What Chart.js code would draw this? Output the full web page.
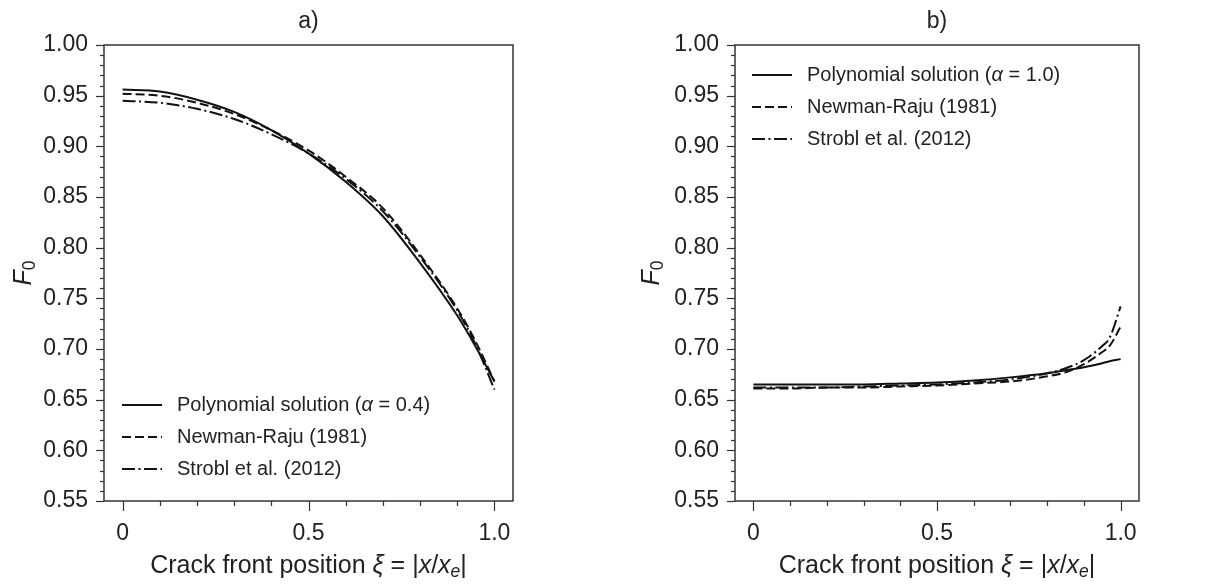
<!DOCTYPE html>
<html>
<head>
<meta charset="utf-8">
<script src="https://cdn.jsdelivr.net/npm/chart.js@4/dist/chart.umd.min.js"></script>
<style>
  body { margin: 0; background: #fff; }
  #wrap { position: relative; width: 1226px; height: 587px; overflow: hidden; }
  canvas { position: absolute; top: 0; }
</style>
</head>
<body>
<div id="wrap">
  <canvas id="chartA" width="540" height="587" style="left:0px"></canvas>
  <canvas id="chartB" width="560" height="587" style="left:620px"></canvas>
</div>
<script>
// ================= DATA =================
const xiA = [0, 0.1, 0.2, 0.3, 0.4, 0.5, 0.6, 0.7, 0.8, 0.9, 0.95, 1.0];
const polyA = [0.956, 0.954, 0.946, 0.934, 0.916, 0.893, 0.865, 0.831, 0.785, 0.733, 0.702, 0.668];
const newmanA = [0.952, 0.950, 0.943, 0.932, 0.916, 0.896, 0.870, 0.839, 0.793, 0.740, 0.707, 0.668];
const stroblA = [0.945, 0.943, 0.937, 0.927, 0.912, 0.893, 0.868, 0.836, 0.791, 0.738, 0.704, 0.660];

const xiB = [0, 0.1, 0.2, 0.3, 0.4, 0.5, 0.6, 0.7, 0.8, 0.85, 0.9, 0.95, 0.97, 1.0];
const polyB = [0.665, 0.665, 0.665, 0.665, 0.666, 0.667, 0.669, 0.672, 0.676, 0.679, 0.682, 0.686, 0.688, 0.690];
const newmanB = [0.661, 0.661, 0.662, 0.662, 0.663, 0.664, 0.666, 0.668, 0.673, 0.677, 0.685, 0.697, 0.703, 0.722];
const stroblB = [0.662, 0.662, 0.662, 0.663, 0.664, 0.665, 0.667, 0.670, 0.676, 0.681, 0.689, 0.703, 0.711, 0.742];

const labelsA = ["Polynomial solution (α = 0.4)", "Newman-Raju (1981)", "Strobl et al. (2012)"];
const labelsB = ["Polynomial solution (α = 1.0)", "Newman-Raju (1981)", "Strobl et al. (2012)"];

const yTicks = [0.55, 0.60, 0.65, 0.70, 0.75, 0.80, 0.85, 0.90, 0.95, 1.00];
const xTicks = [0, 0.5, 1.0];

// ================= HELPERS =================
const FONT = "'Liberation Sans', Arial, sans-serif";
const INK = "#222";
const LINE = "#111";
const dashes = [[], [9, 4], [13, 3.5, 2, 3.5]];

// split a plain string into runs, Greek letters in italic
function toRuns(str) {
  const runs = [];
  for (const ch of str) {
    const it = /[α-ω]/.test(ch);
    const last = runs[runs.length - 1];
    if (last && last.it === it) last.t += ch;
    else runs.push({ t: ch, it });
  }
  return runs;
}

function runFont(r, size) {
  const s = r.sub ? size * 0.7 : size;
  return (r.it ? "italic " : "") + s + "px " + FONT;
}

function drawRuns(ctx, runs, x, y, size, align) {
  ctx.save();
  ctx.textBaseline = "middle";
  ctx.textAlign = "left";
  ctx.fillStyle = INK;
  let total = 0;
  runs.forEach(r => { ctx.font = runFont(r, size); total += ctx.measureText(r.t).width; });
  let cx = align === "center" ? x - total / 2 : x;
  runs.forEach(r => {
    ctx.font = runFont(r, size);
    ctx.fillText(r.t, cx, r.sub ? y + size * 0.25 : y);
    cx += ctx.measureText(r.t).width;
  });
  ctx.restore();
}

const xTitleRuns = [
  { t: "Crack front position " }, { t: "ξ", it: true }, { t: " = |" },
  { t: "x", it: true }, { t: "/" }, { t: "x", it: true }, { t: "e", it: true, sub: true }, { t: "|" }
];
const yTitleRuns = [{ t: "F", it: true }, { t: "0", sub: true }];

// frame, minor ticks, titles and the inside legend
const decorPlugin = {
  id: "decor",
  afterDatasetsDraw(chart, args, opts) {
    const { ctx, chartArea: a, scales } = chart;
    const midX = (a.left + a.right) / 2;
    ctx.save();
    ctx.strokeStyle = "#333";
    ctx.lineWidth = 1.5;
    ctx.strokeRect(a.left, a.top, a.right - a.left, a.bottom - a.top);

    // y ticks every 0.01
    ctx.lineWidth = 1.2;
    for (let k = 55; k <= 100; k++) {
      const py = Math.round(scales.y.getPixelForValue(k / 100)) + 0.5;
      const len = k % 5 === 0 ? 8 : 4;
      ctx.beginPath(); ctx.moveTo(a.left - len, py); ctx.lineTo(a.left, py); ctx.stroke();
    }
    // x ticks every 0.1
    for (let k = 0; k <= 10; k++) {
      const px = Math.round(scales.x.getPixelForValue(k / 10)) + 0.5;
      const len = k % 5 === 0 ? 10 : 5;
      ctx.beginPath(); ctx.moveTo(px, a.bottom); ctx.lineTo(px, a.bottom + len); ctx.stroke();
    }
    ctx.restore();

    // panel title and axis titles
    drawRuns(ctx, [{ t: opts.title }], midX, 22, 23, "center");
    drawRuns(ctx, xTitleRuns, midX, 566, 25, "center");
    ctx.save();
    ctx.translate(opts.yTitleX, (a.top + a.bottom) / 2);
    ctx.rotate(-Math.PI / 2);
    drawRuns(ctx, yTitleRuns, 0, 0, 25, "center");
    ctx.restore();

    // legend
    const lx = a.left + opts.legendDx;
    chart.data.datasets.forEach((ds, i) => {
      const ly = a.top + opts.legendDy + i * 32;
      ctx.save();
      ctx.strokeStyle = ds.borderColor;
      ctx.lineWidth = ds.borderWidth;
      ctx.setLineDash(ds.borderDash || []);
      ctx.beginPath(); ctx.moveTo(lx, ly); ctx.lineTo(lx + 40, ly); ctx.stroke();
      ctx.restore();
      drawRuns(ctx, toRuns(ds.label), lx + 55, ly, 20, "left");
    });
  }
};

function makeChart(id, title, xi, series, labels, cfg) {
  const datasets = series.map((vals, i) => ({
    label: labels[i],
    data: xi.map((x, j) => ({ x, y: vals[j] })),
    borderColor: LINE,
    borderWidth: 2,
    borderDash: dashes[i],
    pointRadius: 0,
    cubicInterpolationMode: "monotone",
    fill: false
  }));

  return new Chart(document.getElementById(id), {
    type: "line",
    data: { datasets },
    options: {
      responsive: false,
      animation: false,
      layout: { padding: { left: 0, right: cfg.padRight, top: 45, bottom: 0 } },
      plugins: {
        legend: { display: false },
        tooltip: { enabled: false },
        title: { display: false },
        decor: { title, yTitleX: cfg.yTitleX, legendDx: cfg.legendDx, legendDy: cfg.legendDy }
      },
      scales: {
        x: {
          type: "linear",
          min: -0.05,
          max: 1.05,
          afterBuildTicks: s => { s.ticks = xTicks.map(v => ({ value: v })); },
          afterFit: s => { s.height = 86; },
          ticks: {
            color: INK,
            font: { family: FONT, size: 23 },
            padding: 9,
            maxRotation: 0,
            callback: v => (v === 0 ? "0" : v.toFixed(1))
          },
          grid: { drawOnChartArea: false, color: "rgba(0,0,0,0)", tickLength: 10 },
          border: { display: false }
        },
        y: {
          min: 0.55,
          max: 1.0,
          afterBuildTicks: s => { s.ticks = yTicks.map(v => ({ value: v })); },
          afterFit: s => { s.width = cfg.yWidth; },
          ticks: {
            color: INK,
            font: { family: FONT, size: 23 },
            padding: 8,
            callback: v => v.toFixed(2)
          },
          grid: { drawOnChartArea: false, color: "rgba(0,0,0,0)", tickLength: 8 },
          border: { display: false }
        }
      }
    },
    plugins: [decorPlugin]
  });
}

makeChart("chartA", "a)", xiA, [polyA, newmanA, stroblA], labelsA,
  { padRight: 27, yWidth: 104, yTitleX: 24, legendDx: 18, legendDy: 360 });
makeChart("chartB", "b)", xiB, [polyB, newmanB, stroblB], labelsB,
  { padRight: 41, yWidth: 115, yTitleX: 32, legendDx: 17, legendDy: 30 });
</script>
</body>
</html>
